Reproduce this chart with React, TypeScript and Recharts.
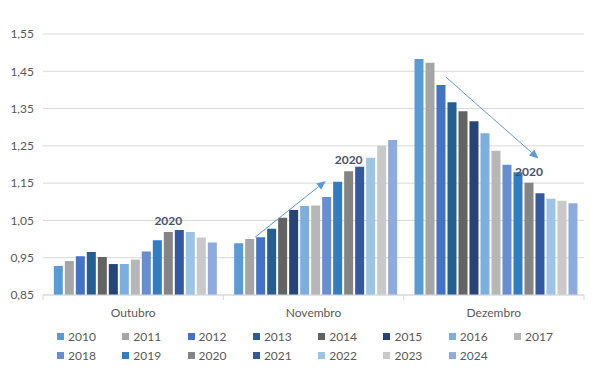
import {
  BarChart,
  Bar,
  CartesianGrid,
  XAxis,
  YAxis,
  Legend,
  LabelList,
  ReferenceLine,
} from "recharts";

const months = ["Outubro", "Novembro", "Dezembro"];
const years = [
  "2010", "2011", "2012", "2013", "2014", "2015", "2016", "2017",
  "2018", "2019", "2020", "2021", "2022", "2023", "2024",
];

const outubro = [0.928, 0.941, 0.954, 0.965, 0.952, 0.933, 0.933, 0.945, 0.967, 0.997, 1.019, 1.024, 1.019, 1.004, 0.991];
const novembro = [0.989, 1.0, 1.005, 1.028, 1.057, 1.078, 1.089, 1.09, 1.113, 1.154, 1.182, 1.194, 1.218, 1.25, 1.266];
const dezembro = [1.483, 1.473, 1.413, 1.367, 1.343, 1.316, 1.284, 1.237, 1.199, 1.179, 1.151, 1.123, 1.108, 1.103, 1.096];

const yTicks = [0.85, 0.95, 1.05, 1.15, 1.25, 1.35, 1.45, 1.55];

const colors = [
  "#5B9BD5", "#A5A5A5", "#4472C4", "#255E91", "#636363", "#264478", "#7CAFDD", "#B7B7B7",
  "#698ED0", "#327DC2", "#848484", "#335AA1", "#9DC3E6", "#C9C9C9", "#8FAADC",
];

// trend arrows, in (category position, value) coordinates; 0..3 spans the x axis
const arrows = [
  { x1: 1.176, y1: 1.005, x2: 1.568, y2: 1.156 },
  { x1: 2.235, y1: 1.434, x2: 2.747, y2: 1.216 },
];

const rows = [outubro, novembro, dezembro];
const data = months.map((m, i) => {
  const row: Record<string, string | number> = { month: m, pos: i + 0.5 };
  years.forEach((y, j) => {
    row[y] = rows[i][j];
  });
  return row;
});

const FONT = "Lato, 'Liberation Sans', sans-serif";
const TEXT = "#595959";

function ArrowShape(props: any) {
  const { x1, y1, x2, y2 } = props;
  if (x1 == null) return null;
  const a = Math.atan2(y2 - y1, x2 - x1);
  const len = 9;
  const w = 4;
  const bx = x2 - len * Math.cos(a);
  const by = y2 - len * Math.sin(a);
  const p1 = `${bx + w * Math.sin(a)},${by - w * Math.cos(a)}`;
  const p2 = `${bx - w * Math.sin(a)},${by + w * Math.cos(a)}`;
  return (
    <g>
      <line x1={x1} y1={y1} x2={bx} y2={by} stroke="#5B9BD5" strokeWidth={1} />
      <polygon points={`${x2},${y2} ${p1} ${p2}`} fill="#5B9BD5" />
    </g>
  );
}

function MonthTick(props: any) {
  const { x, y, payload, index } = props;
  const half = 90.2;
  const base = y - 13;
  return (
    <g>
      <line x1={x - half} y1={base} x2={x - half} y2={base + 5} stroke="#D9D9D9" />
      {index === months.length - 1 && (
        <line x1={x + half} y1={base} x2={x + half} y2={base + 5} stroke="#D9D9D9" />
      )}
      <text x={x} y={y} dy="0.71em" textAnchor="middle" fill={TEXT} fontSize={12} fontFamily={FONT}>
        {payload.value}
      </text>
    </g>
  );
}

function LegendGrid(props: any) {
  const { payload } = props;
  return (
    <div
      style={{
        display: "grid",
        gridTemplateColumns: "repeat(8, 65.3px)",
        rowGap: 5,
        paddingLeft: 57,
        fontFamily: FONT,
        fontSize: 12,
        color: TEXT,
      }}
    >
      {payload.map((p: any) => (
        <div key={p.value} style={{ display: "flex", alignItems: "center", height: 14 }}>
          <span style={{ width: 7, height: 7, background: p.color, marginRight: 4, display: "inline-block" }} />
          <span>{p.value}</span>
        </div>
      ))}
    </div>
  );
}

export default function App() {
  return (
    <div style={{ position: "absolute", left: 0, top: 0, background: "#fff" }}>
      <BarChart
        width={598}
        height={384}
        data={data}
        margin={{ top: 34, right: 14, bottom: 23, left: 0 }}
        barGap={2}
        barCategoryGap="6%"
      >
        <CartesianGrid vertical={false} stroke="#D9D9D9" />
        <XAxis
          dataKey="month"
          axisLine={{ stroke: "#D9D9D9" }}
          tickLine={false}
          tickSize={0}
          tickMargin={13}
          height={33}
          tick={<MonthTick />}
        />
        <XAxis
          xAxisId="n"
          dataKey="pos"
          type="number"
          domain={[0, 3]}
          allowDataOverflow
          padding={{ left: 0, right: 0 }}
          hide
        />
        <YAxis
          domain={[0.85, 1.55]}
          ticks={yTicks}
          width={43}
          axisLine={false}
          tickLine={false}
          tickSize={0}
          tickMargin={9}
          tick={{ fill: TEXT, fontSize: 12, fontFamily: FONT }}
          tickFormatter={(v: number) => v.toFixed(2).replace(".", ",")}
          allowDataOverflow
        />
        <Legend
          verticalAlign="bottom"
          wrapperStyle={{ left: 0, top: 329, width: 598 }}
          content={<LegendGrid />}
        />
        {years.map((y, i) => (
          <Bar key={y} dataKey={y} fill={colors[i]} isAnimationActive={false}>
            {y === "2020" && (
              <LabelList
                dataKey={y}
                position="top"
                offset={7}
                formatter={() => "2020"}
                fill="#44546A"
                fontSize={12}
                fontWeight="bold"
                fontFamily={FONT}
              />
            )}
          </Bar>
        ))}
        {arrows.map((a, i) => (
          <ReferenceLine
            key={i}
            xAxisId="n"
            segment={[
              { x: a.x1, y: a.y1 },
              { x: a.x2, y: a.y2 },
            ]}
            shape={<ArrowShape />}
          />
        ))}
      </BarChart>
    </div>
  );
}
